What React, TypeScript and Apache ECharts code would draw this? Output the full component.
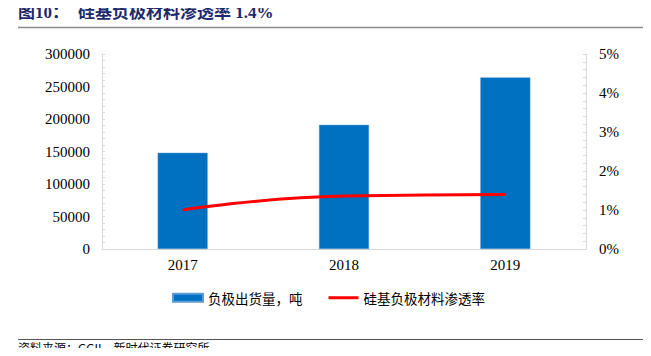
import React, { useEffect, useRef } from "react";
import * as echarts from "echarts";

const categories = ["2017", "2018", "2019"];
const shipments = [148000, 191000, 264000];
const penetration = [1.0, 1.36, 1.4];
const leftTicks = [0, 50000, 100000, 150000, 200000, 250000, 300000];
const rightTicks = [0, 1, 2, 3, 4, 5];

const barName = "负极出货量，吨";
const lineName = "硅基负极材料渗透率";
const titleNo = "图10：";
const titleText = "硅基负极材料渗透率 1.4%";
const sourceText = "资料来源：GGII，新时代证券研究所";

const serif = "'Liberation Serif', 'Times New Roman', 'Noto Sans CJK SC', serif";
const cjk = "'Noto Sans CJK SC', 'Liberation Serif', serif";

export default function App() {
  const ref = useRef<HTMLDivElement>(null);
  useEffect(() => {
    if (!ref.current) return;
    const chart = echarts.init(ref.current, null, { renderer: "svg" });
    chart.setOption({
      animation: false,
      backgroundColor: "#ffffff",
      grid: { left: 102, right: 65, top: 54, bottom: 107, containLabel: false },
      graphic: [
        {
          type: "text",
          left: 18,
          top: 4,
          style: { text: titleNo, fill: "#1c2a6e", font: `bold 17px ${serif}` },
        },
        {
          type: "text",
          left: 78,
          top: 4,
          style: { text: titleText, fill: "#1c2a6e", font: `bold 17px ${serif}` },
        },
        {
          type: "line",
          shape: { x1: 18, y1: 27.5, x2: 651, y2: 27.5 },
          style: { stroke: "#8c8c8c", lineWidth: 1.5 },
        },
        {
          type: "line",
          shape: { x1: 18, y1: 339.5, x2: 651, y2: 339.5 },
          style: { stroke: "#555555", lineWidth: 1 },
        },
        {
          type: "text",
          left: 18,
          top: 341,
          style: { text: sourceText, fill: "#000000", font: `12px ${cjk}`, lineHeight: 13 },
        },
      ],
      legend: {
        left: 167,
        top: 286,
        itemWidth: 30,
        itemHeight: 8,
        itemGap: 26,
        symbolKeepAspect: true,
        textStyle: { fontFamily: cjk, fontSize: 13.5, color: "#000" },
        data: [
          { name: barName, icon: "rect" },
          {
            name: lineName,
            icon: "path://M0,0 L30,0 L30,3 L0,3 Z",
            itemStyle: { color: "#ff0000" },
          },
        ],
      },
      xAxis: {
        type: "category",
        data: categories,
        axisLine: { lineStyle: { color: "#d9d9d9", width: 1 } },
        axisTick: { show: false },
        axisLabel: { color: "#000", fontFamily: serif, fontSize: 15, margin: 8 },
      },
      yAxis: [
        {
          type: "value",
          min: leftTicks[0],
          max: leftTicks[leftTicks.length - 1],
          interval: 50000,
          splitLine: { show: false },
          axisLine: { show: true, lineStyle: { color: "#d9d9d9" } },
          axisTick: { show: true, inside: true, length: 3, lineStyle: { color: "#d9d9d9" } },
          minorTick: { show: true, splitNumber: 5, length: 3, lineStyle: { color: "#d9d9d9" } },
          axisLabel: {
            color: "#000",
            fontFamily: serif,
            fontSize: 15,
            margin: 12,
            formatter: (v: number) => String(v),
          },
        },
        {
          type: "value",
          min: rightTicks[0],
          max: rightTicks[rightTicks.length - 1],
          interval: 1,
          position: "right",
          splitLine: { show: false },
          axisLine: { show: true, lineStyle: { color: "#d9d9d9" } },
          axisTick: { show: true, inside: true, length: 3, lineStyle: { color: "#d9d9d9" } },
          minorTick: { show: true, splitNumber: 5, length: 3, lineStyle: { color: "#d9d9d9" } },
          axisLabel: {
            color: "#000",
            fontFamily: serif,
            fontSize: 15,
            margin: 13,
            formatter: (v: number) => `${v}%`,
          },
        },
      ],
      series: [
        {
          name: barName,
          type: "bar",
          data: shipments,
          barWidth: 50,
          itemStyle: { color: "#0070c0", borderColor: "#5b9bd5", borderWidth: 0.5 },
        },
        {
          name: lineName,
          type: "line",
          yAxisIndex: 1,
          data: penetration,
          smooth: true,
          symbol: "none",
          lineStyle: { color: "#ff0000", width: 3 },
          itemStyle: { color: "#ff0000" },
        },
      ],
    });
    return () => chart.dispose();
  }, []);
  return <div ref={ref} style={{ width: 651, height: 356, margin: -8 }} />;
}
